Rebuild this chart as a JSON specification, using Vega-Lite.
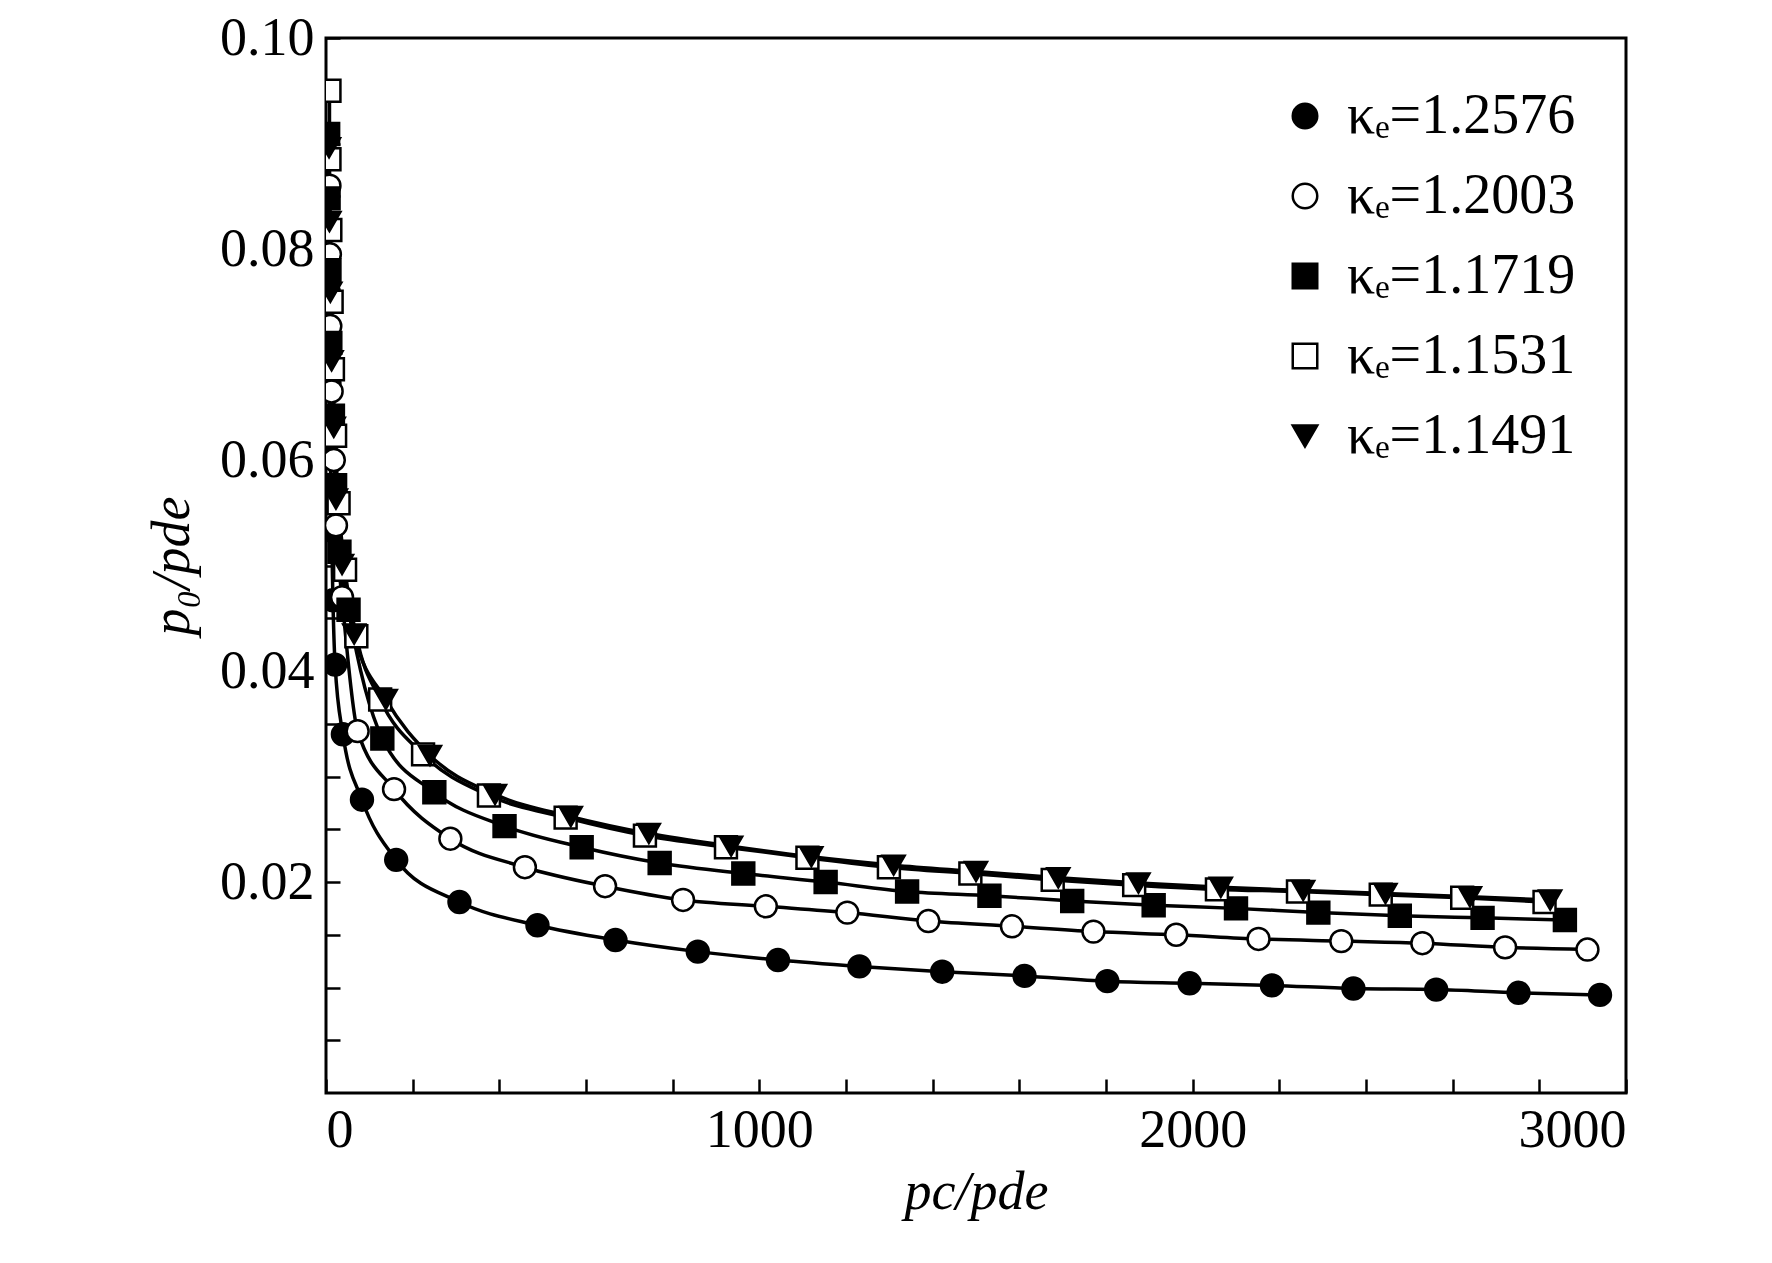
{
  "$schema": "https://vega.github.io/schema/vega-lite/v6.json",
  "width": 1300,
  "height": 1055,
  "autosize": "none",
  "padding": {"left": 326, "top": 38, "right": 146, "bottom": 170},
  "background": "white",
  "config": {
    "font": "Liberation Serif",
    "view": {"stroke": "black", "strokeWidth": 3},
    "axis": {"domain": false, "grid": false, "tickColor": "black", "tickWidth": 2.5, "tickSize": -14,
      "labelFont": "Liberation Serif", "labelFontSize": 54, "labelColor": "black",
      "titleFont": "Liberation Serif", "titleFontSize": 54, "titleFontStyle": "italic", "titleFontWeight": "normal", "titleColor": "black"}
  },
  "data": {"values": [
    {"s": "κₑ=1.2576", "x": 6, "y": 0.076}, {"s": "κₑ=1.2576", "x": 8, "y": 0.0673}, {"s": "κₑ=1.2576", "x": 10, "y": 0.0602},
    {"s": "κₑ=1.2576", "x": 13, "y": 0.0533}, {"s": "κₑ=1.2576", "x": 16, "y": 0.0467}, {"s": "κₑ=1.2576", "x": 21, "y": 0.0406},
    {"s": "κₑ=1.2576", "x": 39, "y": 0.034}, {"s": "κₑ=1.2576", "x": 83, "y": 0.0278}, {"s": "κₑ=1.2576", "x": 162, "y": 0.0221},
    {"s": "κₑ=1.2576", "x": 308, "y": 0.0181}, {"s": "κₑ=1.2576", "x": 488, "y": 0.0159}, {"s": "κₑ=1.2576", "x": 668, "y": 0.0145},
    {"s": "κₑ=1.2576", "x": 858, "y": 0.0134}, {"s": "κₑ=1.2576", "x": 1043, "y": 0.0126}, {"s": "κₑ=1.2576", "x": 1231, "y": 0.012},
    {"s": "κₑ=1.2576", "x": 1422, "y": 0.0115}, {"s": "κₑ=1.2576", "x": 1612, "y": 0.0111}, {"s": "κₑ=1.2576", "x": 1803, "y": 0.0106},
    {"s": "κₑ=1.2576", "x": 1993, "y": 0.0104}, {"s": "κₑ=1.2576", "x": 2183, "y": 0.0102}, {"s": "κₑ=1.2576", "x": 2371, "y": 0.0099},
    {"s": "κₑ=1.2576", "x": 2562, "y": 0.0098}, {"s": "κₑ=1.2576", "x": 2752, "y": 0.0095}, {"s": "κₑ=1.2576", "x": 2940, "y": 0.0093},

    {"s": "κₑ=1.2003", "x": 8, "y": 0.086}, {"s": "κₑ=1.2003", "x": 9, "y": 0.0795}, {"s": "κₑ=1.2003", "x": 10, "y": 0.0727},
    {"s": "κₑ=1.2003", "x": 13, "y": 0.0665}, {"s": "κₑ=1.2003", "x": 18, "y": 0.06}, {"s": "κₑ=1.2003", "x": 23, "y": 0.0538},
    {"s": "κₑ=1.2003", "x": 37, "y": 0.047}, {"s": "κₑ=1.2003", "x": 73, "y": 0.0343}, {"s": "κₑ=1.2003", "x": 157, "y": 0.0288},
    {"s": "κₑ=1.2003", "x": 287, "y": 0.0241}, {"s": "κₑ=1.2003", "x": 459, "y": 0.0214}, {"s": "κₑ=1.2003", "x": 644, "y": 0.0196},
    {"s": "κₑ=1.2003", "x": 824, "y": 0.0183}, {"s": "κₑ=1.2003", "x": 1015, "y": 0.0177}, {"s": "κₑ=1.2003", "x": 1203, "y": 0.0171},
    {"s": "κₑ=1.2003", "x": 1390, "y": 0.0163}, {"s": "κₑ=1.2003", "x": 1583, "y": 0.0158}, {"s": "κₑ=1.2003", "x": 1771, "y": 0.0153},
    {"s": "κₑ=1.2003", "x": 1962, "y": 0.015}, {"s": "κₑ=1.2003", "x": 2152, "y": 0.0146}, {"s": "κₑ=1.2003", "x": 2343, "y": 0.0144},
    {"s": "κₑ=1.2003", "x": 2530, "y": 0.0142}, {"s": "κₑ=1.2003", "x": 2721, "y": 0.0138}, {"s": "κₑ=1.2003", "x": 2911, "y": 0.0136},

    {"s": "κₑ=1.1719", "x": 5, "y": 0.0909}, {"s": "κₑ=1.1719", "x": 6, "y": 0.0848}, {"s": "κₑ=1.1719", "x": 8, "y": 0.078},
    {"s": "κₑ=1.1719", "x": 10, "y": 0.0711}, {"s": "κₑ=1.1719", "x": 16, "y": 0.0642}, {"s": "κₑ=1.1719", "x": 21, "y": 0.0576},
    {"s": "κₑ=1.1719", "x": 31, "y": 0.0513}, {"s": "κₑ=1.1719", "x": 52, "y": 0.0458}, {"s": "κₑ=1.1719", "x": 130, "y": 0.0336},
    {"s": "κₑ=1.1719", "x": 250, "y": 0.0285}, {"s": "κₑ=1.1719", "x": 412, "y": 0.0253}, {"s": "κₑ=1.1719", "x": 590, "y": 0.0233},
    {"s": "κₑ=1.1719", "x": 770, "y": 0.0218}, {"s": "κₑ=1.1719", "x": 963, "y": 0.0208}, {"s": "κₑ=1.1719", "x": 1153, "y": 0.02},
    {"s": "κₑ=1.1719", "x": 1341, "y": 0.0191}, {"s": "κₑ=1.1719", "x": 1531, "y": 0.0187}, {"s": "κₑ=1.1719", "x": 1722, "y": 0.0182},
    {"s": "κₑ=1.1719", "x": 1910, "y": 0.0178}, {"s": "κₑ=1.1719", "x": 2100, "y": 0.0175}, {"s": "κₑ=1.1719", "x": 2290, "y": 0.0171},
    {"s": "κₑ=1.1719", "x": 2478, "y": 0.0168}, {"s": "κₑ=1.1719", "x": 2669, "y": 0.0166}, {"s": "κₑ=1.1719", "x": 2859, "y": 0.0164},

    {"s": "κₑ=1.1531", "x": 8, "y": 0.095}, {"s": "κₑ=1.1531", "x": 8, "y": 0.0885}, {"s": "κₑ=1.1531", "x": 10, "y": 0.0818},
    {"s": "κₑ=1.1531", "x": 13, "y": 0.075}, {"s": "κₑ=1.1531", "x": 16, "y": 0.0686}, {"s": "κₑ=1.1531", "x": 21, "y": 0.0623},
    {"s": "κₑ=1.1531", "x": 29, "y": 0.0559}, {"s": "κₑ=1.1531", "x": 44, "y": 0.0496}, {"s": "κₑ=1.1531", "x": 70, "y": 0.0433},
    {"s": "κₑ=1.1531", "x": 125, "y": 0.0373}, {"s": "κₑ=1.1531", "x": 224, "y": 0.0321}, {"s": "κₑ=1.1531", "x": 376, "y": 0.0282},
    {"s": "κₑ=1.1531", "x": 553, "y": 0.0261}, {"s": "κₑ=1.1531", "x": 736, "y": 0.0244}, {"s": "κₑ=1.1531", "x": 923, "y": 0.0233},
    {"s": "κₑ=1.1531", "x": 1111, "y": 0.0223}, {"s": "κₑ=1.1531", "x": 1299, "y": 0.0214}, {"s": "κₑ=1.1531", "x": 1487, "y": 0.0208},
    {"s": "κₑ=1.1531", "x": 1677, "y": 0.0202}, {"s": "κₑ=1.1531", "x": 1865, "y": 0.0197}, {"s": "κₑ=1.1531", "x": 2056, "y": 0.0193},
    {"s": "κₑ=1.1531", "x": 2243, "y": 0.0191}, {"s": "κₑ=1.1531", "x": 2434, "y": 0.0188}, {"s": "κₑ=1.1531", "x": 2622, "y": 0.0185},
    {"s": "κₑ=1.1531", "x": 2812, "y": 0.0181},

    {"s": "κₑ=1.1491", "x": 7, "y": 0.0896}, {"s": "κₑ=1.1491", "x": 8, "y": 0.0826}, {"s": "κₑ=1.1491", "x": 10, "y": 0.0759},
    {"s": "κₑ=1.1491", "x": 13, "y": 0.0694}, {"s": "κₑ=1.1491", "x": 18, "y": 0.0631}, {"s": "κₑ=1.1491", "x": 23, "y": 0.0563},
    {"s": "κₑ=1.1491", "x": 37, "y": 0.0501}, {"s": "κₑ=1.1491", "x": 65, "y": 0.0435}, {"s": "κₑ=1.1491", "x": 138, "y": 0.0373},
    {"s": "κₑ=1.1491", "x": 240, "y": 0.032}, {"s": "κₑ=1.1491", "x": 390, "y": 0.0283}, {"s": "κₑ=1.1491", "x": 565, "y": 0.0262},
    {"s": "κₑ=1.1491", "x": 745, "y": 0.0246}, {"s": "κₑ=1.1491", "x": 935, "y": 0.0234}, {"s": "κₑ=1.1491", "x": 1120, "y": 0.0224},
    {"s": "κₑ=1.1491", "x": 1310, "y": 0.0216}, {"s": "κₑ=1.1491", "x": 1500, "y": 0.021}, {"s": "κₑ=1.1491", "x": 1690, "y": 0.0204},
    {"s": "κₑ=1.1491", "x": 1875, "y": 0.0199}, {"s": "κₑ=1.1491", "x": 2065, "y": 0.0195}, {"s": "κₑ=1.1491", "x": 2255, "y": 0.0192},
    {"s": "κₑ=1.1491", "x": 2445, "y": 0.0189}, {"s": "κₑ=1.1491", "x": 2640, "y": 0.0186}, {"s": "κₑ=1.1491", "x": 2825, "y": 0.0183}
  ]},
  "encoding": {
    "x": {"field": "x", "type": "quantitative", "title": "pc/pde",
      "scale": {"domain": [0, 3000], "nice": false},
      "axis": {"values": [0, 200, 400, 600, 800, 1000, 1200, 1400, 1600, 1800, 2000, 2200, 2400, 2600, 2800, 3000],
        "labelExpr": "datum.value % 1000 == 0 ? datum.label : ''", "format": "d", "labelPadding": 24, "titlePadding": 8}},
    "y": {"field": "y", "type": "quantitative", "title": "p₀/pde",
      "scale": {"domain": [0, 0.1], "nice": false},
      "axis": {"values": [0.005, 0.01, 0.015, 0.02, 0.025, 0.03, 0.035, 0.04, 0.045, 0.05, 0.055, 0.06, 0.065, 0.07, 0.075, 0.08, 0.085, 0.09, 0.095, 0.1],
        "labelExpr": "abs(datum.value * 50 - round(datum.value * 50)) < 0.001 ? format(datum.value, '.2f') : ''", "labelPadding": 26, "titlePadding": 20}}
  },
  "layer": [
    {"mark": {"type": "line", "color": "black", "strokeWidth": 3.5, "interpolate": "monotone", "clip": true},
      "encoding": {"detail": {"field": "s"}}},
    {"mark": {"type": "point", "size": 480, "stroke": "black", "strokeWidth": 2.5, "opacity": 1, "clip": true},
      "encoding": {
        "shape": {"field": "s", "type": "nominal", "sort": null,
          "scale": {"domain": ["κₑ=1.2576", "κₑ=1.2003", "κₑ=1.1719", "κₑ=1.1531", "κₑ=1.1491"],
            "range": ["circle", "circle", "square", "square", "triangle-down"]},
          "legend": {"title": null, "orient": "top-right", "offset": 50, "labelFontSize": 56, "labelFont": "Liberation Serif",
            "labelColor": "black", "labelLimit": 0, "symbolSize": 600, "symbolStrokeWidth": 2.5, "rowPadding": 24, "labelOffset": 14}},
        "fill": {"field": "s", "type": "nominal",
          "scale": {"domain": ["κₑ=1.2576", "κₑ=1.2003", "κₑ=1.1719", "κₑ=1.1531", "κₑ=1.1491"],
            "range": ["black", "white", "black", "white", "black"]}}
      }}
  ]
}
